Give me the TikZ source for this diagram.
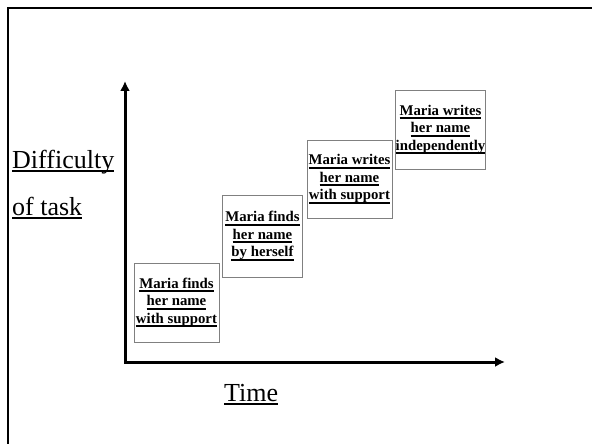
\documentclass[tikz,border=0pt]{standalone}
\usepackage{fontspec}
\setmainfont{Liberation Serif}
\usetikzlibrary{arrows.meta}

\newsavebox\ulinebox
\newcommand{\ulword}[1]{\sbox\ulinebox{#1}\rlap{\rule[-4pt]{\wd\ulinebox}{2pt}}\usebox\ulinebox}

\begin{document}
\begin{tikzpicture}[x=1pt, y=-1pt,
    stepbox/.style={draw=gray, line width=0.8pt, align=center, inner sep=0pt,
        font=\fontsize{14.8}{17.5}\selectfont\bfseries},
    axislabel/.style={anchor=base west, inner sep=0pt, font=\fontsize{26}{30}\selectfont},
    axis/.style={line width=3pt, line join=miter,
        {Latex[length=10pt,width=10pt]}-{Latex[length=10pt,width=10pt]}}]
    \useasboundingbox (0,0) rectangle (592,444);
    \clip (0,0) rectangle (592,444);
    \draw[line width=2.5pt] (8,460) -- (8,8) -- (610,8);

    \coordinate (origin) at (125,362);
    \coordinate (ytip) at (125,81);
    \coordinate (xtip) at (505,362);
    \draw[axis] (ytip) -- (origin) -- (xtip);

    \node[axislabel] (difficulty) at (12,168) {\ulword{Difficulty}};
    \node[axislabel] (oftask) at (12,215) {\ulword{of task}};
    \node[axislabel] (time) at (224,401) {\ulword{Time}};

    \node[stepbox, minimum width=85pt, minimum height=79pt] (findssupport) at (176.5,302.5)
        {\ulword{Maria finds}\\\ulword{her name}\\\ulword{with support}};
    \node[stepbox, minimum width=80pt, minimum height=82pt] (findsherself) at (262.5,236)
        {\ulword{Maria finds}\\\ulword{her name}\\\ulword{by herself}};
    \node[stepbox, minimum width=85pt, minimum height=78pt] (writessupport) at (349.5,179)
        {\ulword{Maria writes}\\\ulword{her name}\\\ulword{with support}};
    \node[stepbox, minimum width=89pt, minimum height=79pt] (writesalone) at (440.5,129.5)
        {\ulword{Maria writes}\\\ulword{her name}\\\ulword{independently}};
\end{tikzpicture}
\end{document}
